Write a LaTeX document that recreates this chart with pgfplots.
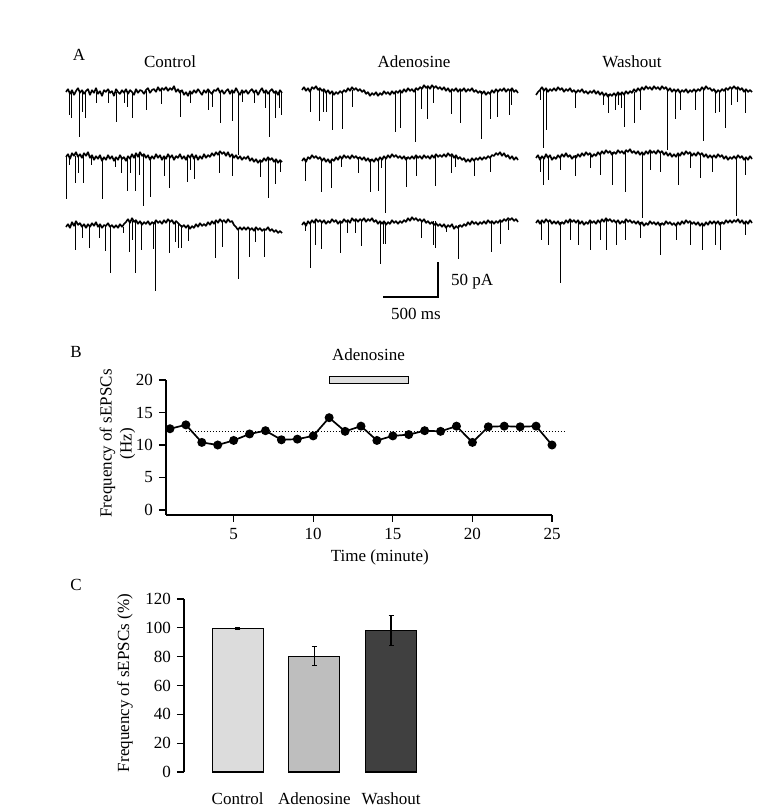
\documentclass[border=0pt]{standalone}
\usepackage{fontspec}
\setmainfont{Liberation Serif}
\usepackage{pgfplots}
\pgfplotsset{compat=1.18}
\definecolor{ctrlfill}{HTML}{DCDCDC}
\definecolor{adefill}{HTML}{BEBEBE}
\definecolor{washfill}{HTML}{404040}
\definecolor{barfill}{HTML}{DEDEDE}
\pgfplotsset{/pgf/number format/assume math mode=true}
\pgfplotsset{
  trace/.style={black, line width=0.8pt, mark=none, forget plot, line join=bevel},
  spikes/.style={draw=none, mark=none, forget plot,
    error bars/.cd, y dir=plus, y explicit, error mark=none,
    error bar style={draw=black, line width=0.45pt}},
}
\begin{document}
\fontsize{8.5}{10}\selectfont
\begin{tikzpicture}[font=\fontsize{8.5}{10}\selectfont]
\path[use as bounding box] (0,0) rectangle (390.5pt,405pt);
% ---------------- Panel A (canvas axis in image pixels) ----------------
\begin{axis}[at={(0pt,0pt)}, anchor=south west, scale only axis,
  width=390.5pt, height=405pt, xmin=0, xmax=781, ymin=0, ymax=810,
  y dir=reverse, hide axis, clip=false]
% Control row 1
\addplot[trace] table[header=false, row sep=\\, x expr=66+2*\coordindex, y index=0] {
92\\89\\94\\90\\95\\91\\88\\93\\90\\94\\
91\\89\\95\\90\\93\\88\\94\\91\\96\\90\\
92\\89\\93\\91\\96\\89\\92\\94\\90\\93\\
89\\94\\90\\92\\95\\89\\93\\90\\91\\94\\
90\\88\\93\\90\\89\\92\\87\\91\\88\\90\\
87\\91\\88\\90\\86\\92\\89\\93\\90\\95\\
92\\96\\91\\94\\90\\93\\89\\92\\95\\90\\
93\\89\\92\\94\\90\\91\\88\\93\\90\\94\\
91\\89\\94\\90\\93\\88\\92\\95\\90\\93\\
90\\94\\91\\89\\93\\90\\95\\91\\88\\93\\
90\\94\\91\\89\\93\\91\\95\\90\\93\\
};
\addplot[spikes] coordinates {(69,92)+-(0,23) (71,92)+-(0,26) (79,92)+-(0,45) (82,92)+-(0,20) (85,92)+-(0,26) (96,92)+-(0,11) (108,92)+-(0,11) (116,92)+-(0,30) (124,92)+-(0,11) (127,92)+-(0,15) (132,92)+-(0,26) (146,91)+-(0,19) (161,89)+-(0,15) (180,90)+-(0,27) (190,92)+-(0,11) (208,91)+-(0,19) (212,91)+-(0,16) (220,91)+-(0,32) (232,91)+-(0,30) (238,92)+-(0,63) (242,92)+-(0,10) (254,92)+-(0,11) (265,92)+-(0,16) (269,92)+-(0,45) (275,92)+-(0,26) (279,92)+-(0,16) (281,92)+-(0,23)};
% Control row 2
\addplot[trace] table[header=false, row sep=\\, x expr=66+2*\coordindex, y index=0] {
157\\154\\159\\153\\156\\152\\157\\154\\158\\153\\
156\\152\\158\\155\\160\\156\\159\\155\\161\\157\\
160\\155\\159\\156\\161\\157\\160\\155\\159\\157\\
161\\156\\159\\154\\158\\153\\157\\152\\156\\154\\
158\\155\\160\\156\\159\\154\\158\\155\\160\\156\\
159\\154\\158\\155\\160\\156\\158\\154\\159\\156\\
160\\155\\158\\154\\159\\155\\160\\156\\159\\154\\
158\\155\\157\\153\\156\\152\\155\\151\\154\\152\\
156\\152\\157\\154\\158\\155\\159\\156\\160\\157\\
159\\156\\161\\158\\162\\159\\163\\160\\162\\158\\
161\\157\\160\\158\\162\\159\\163\\160\\162\\
};
\addplot[spikes] coordinates {(66,157)+-(0,42) (69,156)+-(0,9) (75,156)+-(0,27) (78,155)+-(0,18) (83,155)+-(0,28) (91,155)+-(0,10) (102,158)+-(0,41) (115,158)+-(0,9) (121,158)+-(0,15) (127,157)+-(0,34) (130,157)+-(0,16) (135,156)+-(0,35) (139,155)+-(0,20) (143,155)+-(0,51) (150,157)+-(0,40) (164,157)+-(0,19) (169,157)+-(0,31) (187,157)+-(0,25) (190,157)+-(0,13) (194,157)+-(0,22) (219,154)+-(0,19) (232,156)+-(0,20) (260,161)+-(0,16) (268,159)+-(0,39) (275,160)+-(0,24) (280,160)+-(0,12)};
% Control row 3
\addplot[trace] table[header=false, row sep=\\, x expr=66+2*\coordindex, y index=0] {
227\\224\\228\\222\\226\\221\\225\\223\\227\\224\\
228\\224\\227\\223\\226\\222\\227\\224\\228\\225\\
226\\223\\227\\225\\228\\225\\228\\224\\227\\224\\
222\\219\\223\\218\\222\\220\\224\\221\\225\\222\\
224\\221\\225\\222\\224\\220\\223\\221\\224\\220\\
223\\219\\222\\220\\224\\221\\223\\225\\227\\225\\
228\\225\\229\\226\\228\\224\\227\\223\\226\\224\\
226\\222\\225\\221\\224\\220\\223\\219\\222\\220\\
223\\219\\222\\221\\225\\227\\230\\227\\230\\227\\
230\\227\\230\\228\\231\\227\\230\\228\\231\\229\\
230\\227\\231\\229\\232\\230\\233\\231\\233\\
};
\addplot[spikes] coordinates {(75,224)+-(0,26) (82,225)+-(0,13) (89,225)+-(0,23) (99,225)+-(0,13) (105,226)+-(0,25) (110,227)+-(0,46) (123,227)+-(0,6) (129,221)+-(0,31) (132,221)+-(0,19) (135,221)+-(0,52) (141,222)+-(0,28) (153,222)+-(0,27) (155,222)+-(0,69) (169,221)+-(0,32) (175,222)+-(0,20) (178,224)+-(0,24) (181,225)+-(0,23) (188,227)+-(0,14) (215,222)+-(0,36) (222,221)+-(0,26) (238,228)+-(0,51) (249,229)+-(0,28) (255,229)+-(0,13) (264,230)+-(0,27)};
% Adenosine row 1
\addplot[trace] table[header=false, row sep=\\, x expr=302+2*\coordindex, y index=0] {
90\\87\\91\\88\\92\\87\\89\\86\\90\\88\\
91\\89\\93\\90\\94\\91\\95\\92\\94\\91\\
93\\90\\92\\88\\91\\87\\90\\88\\91\\89\\
92\\90\\94\\92\\96\\93\\95\\92\\96\\93\\
95\\91\\94\\92\\95\\91\\94\\91\\93\\90\\
93\\89\\92\\88\\91\\89\\92\\88\\90\\87\\
89\\85\\88\\86\\89\\85\\88\\86\\89\\87\\
90\\87\\91\\88\\92\\89\\91\\88\\92\\89\\
91\\88\\92\\89\\91\\88\\92\\90\\93\\91\\
94\\91\\95\\92\\94\\90\\93\\89\\92\\89\\
91\\88\\92\\89\\91\\88\\92\\90\\93\\
};
\addplot[spikes] coordinates {(310,89)+-(0,23) (319,89)+-(0,32) (323,90)+-(0,22) (326,91)+-(0,21) (332,92)+-(0,38) (342,92)+-(0,37) (352,90)+-(0,17) (395,93)+-(0,39) (400,92)+-(0,36) (415,90)+-(0,52) (421,88)+-(0,21) (427,87)+-(0,32) (433,87)+-(0,16) (451,90)+-(0,24) (460,90)+-(0,33) (481,91)+-(0,48) (490,92)+-(0,27) (497,91)+-(0,26) (509,90)+-(0,25) (511,90)+-(0,15)};
% Adenosine row 2
\addplot[trace] table[header=false, row sep=\\, x expr=302+2*\coordindex, y index=0] {
161\\158\\162\\157\\159\\155\\158\\156\\159\\157\\
161\\158\\162\\159\\163\\159\\161\\157\\160\\156\\
159\\155\\158\\156\\159\\155\\158\\156\\159\\157\\
160\\157\\161\\158\\162\\159\\162\\158\\161\\157\\
160\\156\\159\\155\\158\\154\\157\\155\\158\\156\\
159\\156\\160\\157\\159\\156\\159\\155\\158\\156\\
159\\155\\158\\156\\159\\155\\158\\154\\157\\155\\
157\\154\\157\\153\\156\\154\\158\\155\\159\\157\\
160\\158\\162\\159\\162\\158\\161\\158\\160\\157\\
160\\157\\159\\156\\158\\155\\156\\153\\155\\152\\
156\\153\\157\\155\\159\\156\\160\\157\\160\\
};
\addplot[spikes] coordinates {(305,159)+-(0,22) (321,159)+-(0,33) (331,159)+-(0,29) (341,157)+-(0,10) (358,157)+-(0,16) (370,159)+-(0,33) (378,159)+-(0,32) (381,158)+-(0,10) (385,157)+-(0,56) (406,157)+-(0,30) (416,157)+-(0,19) (435,156)+-(0,30) (451,156)+-(0,17) (455,156)+-(0,11) (474,159)+-(0,17) (490,156)+-(0,16)};
% Adenosine row 3
\addplot[trace] table[header=false, row sep=\\, x expr=302+2*\coordindex, y index=0] {
225\\222\\226\\221\\224\\220\\223\\219\\222\\220\\
223\\220\\224\\221\\223\\219\\222\\220\\224\\221\\
223\\219\\222\\220\\223\\218\\221\\219\\222\\219\\
221\\218\\222\\219\\221\\218\\222\\220\\224\\221\\
224\\221\\225\\222\\224\\220\\223\\221\\224\\221\\
223\\220\\222\\218\\221\\217\\220\\218\\221\\219\\
222\\219\\223\\221\\224\\222\\225\\223\\226\\224\\
227\\224\\228\\225\\227\\224\\229\\226\\228\\225\\
227\\224\\226\\222\\225\\221\\224\\222\\225\\222\\
224\\221\\224\\220\\223\\221\\224\\221\\223\\220\\
222\\219\\221\\218\\220\\218\\221\\219\\222\\
};
\addplot[spikes] coordinates {(305,223)+-(0,8) (310,222)+-(0,46) (315,221)+-(0,24) (321,221)+-(0,28) (340,221)+-(0,32) (347,220)+-(0,13) (355,220)+-(0,13) (361,220)+-(0,26) (380,221)+-(0,43) (383,222)+-(0,22) (385,222)+-(0,22) (421,220)+-(0,18) (433,221)+-(0,24) (435,221)+-(0,27) (446,226)+-(0,6) (458,225)+-(0,34) (491,222)+-(0,30) (500,221)+-(0,23) (508,220)+-(0,10)};
% Washout row 1
\addplot[trace] table[header=false, row sep=\\, x expr=536+2*\coordindex, y index=0] {
95\\92\\90\\87\\91\\88\\92\\89\\91\\88\\
91\\87\\90\\88\\92\\89\\91\\88\\92\\90\\
93\\90\\92\\89\\93\\91\\94\\91\\93\\90\\
94\\91\\95\\92\\96\\93\\97\\94\\96\\93\\
96\\92\\95\\92\\95\\91\\94\\91\\93\\89\\
92\\88\\91\\87\\90\\86\\89\\87\\90\\86\\
89\\87\\90\\86\\89\\87\\91\\88\\92\\89\\
92\\89\\93\\90\\92\\89\\93\\90\\92\\89\\
92\\89\\91\\87\\90\\86\\89\\88\\91\\89\\
93\\90\\92\\89\\91\\88\\90\\87\\89\\86\\
89\\87\\90\\88\\92\\89\\92\\90\\92\\
};
\addplot[spikes] coordinates {(540,90)+-(0,10) (543,90)+-(0,58) (546,90)+-(0,40) (575,91)+-(0,17) (603,94)+-(0,11) (608,94)+-(0,19) (615,94)+-(0,16) (618,93)+-(0,12) (621,93)+-(0,15) (624,93)+-(0,34) (634,92)+-(0,31) (640,89)+-(0,21) (667,89)+-(0,61) (675,90)+-(0,29) (680,91)+-(0,19) (695,90)+-(0,20) (703,89)+-(0,52) (715,90)+-(0,23) (719,91)+-(0,21) (725,90)+-(0,38) (731,88)+-(0,17) (737,88)+-(0,14) (745,89)+-(0,24)};
% Washout row 2
\addplot[trace] table[header=false, row sep=\\, x expr=536+2*\coordindex, y index=0] {
158\\155\\160\\156\\159\\154\\158\\155\\160\\157\\
159\\155\\158\\154\\157\\153\\157\\155\\159\\156\\
158\\154\\157\\153\\156\\152\\155\\153\\157\\154\\
156\\152\\155\\151\\154\\150\\153\\151\\155\\152\\
154\\150\\153\\151\\154\\150\\152\\149\\153\\151\\
154\\151\\155\\152\\155\\151\\154\\150\\153\\151\\
154\\150\\153\\151\\155\\152\\156\\153\\157\\154\\
157\\153\\156\\152\\155\\151\\154\\152\\156\\153\\
156\\152\\155\\153\\157\\154\\158\\155\\158\\155\\
158\\154\\157\\155\\159\\156\\160\\157\\159\\156\\
159\\155\\158\\156\\160\\157\\160\\156\\159\\
};
\addplot[spikes] coordinates {(540,157)+-(0,15) (543,157)+-(0,28) (548,157)+-(0,23) (560,156)+-(0,14) (575,155)+-(0,21) (590,154)+-(0,14) (600,153)+-(0,22) (612,152)+-(0,33) (625,151)+-(0,41) (642,152)+-(0,66) (650,152)+-(0,18) (660,152)+-(0,20) (678,154)+-(0,31) (690,154)+-(0,14) (700,154)+-(0,24) (712,156)+-(0,16) (736,157)+-(0,59) (745,157)+-(0,18)};
% Washout row 3
\addplot[trace] table[header=false, row sep=\\, x expr=536+2*\coordindex, y index=0] {
223\\220\\224\\220\\223\\219\\222\\220\\224\\221\\
224\\221\\225\\222\\224\\220\\223\\219\\222\\220\\
223\\220\\224\\221\\225\\222\\224\\220\\223\\221\\
224\\220\\223\\219\\222\\218\\221\\219\\222\\220\\
223\\220\\224\\221\\223\\219\\222\\220\\223\\221\\
224\\221\\225\\222\\226\\223\\225\\221\\224\\222\\
225\\222\\226\\223\\225\\221\\224\\222\\225\\223\\
226\\222\\225\\221\\224\\220\\223\\221\\224\\222\\
225\\222\\226\\223\\226\\222\\225\\221\\224\\221\\
224\\221\\225\\222\\224\\220\\223\\220\\223\\220\\
222\\219\\223\\220\\224\\221\\224\\220\\223\\
};
\addplot[spikes] coordinates {(541,221)+-(0,19) (548,221)+-(0,24) (560,222)+-(0,61) (570,221)+-(0,19) (578,221)+-(0,24) (590,222)+-(0,28) (600,221)+-(0,19) (606,220)+-(0,30) (616,221)+-(0,24) (625,221)+-(0,19) (640,222)+-(0,16) (660,223)+-(0,32) (676,223)+-(0,17) (690,222)+-(0,23) (702,223)+-(0,27) (715,222)+-(0,23) (720,222)+-(0,28) (745,221)+-(0,14)};
% scale bar
\addplot[black, line width=0.7pt, mark=none, forget plot] coordinates {(383,297) (438,297) (438,262)};
\node[anchor=west] at (axis cs:445,282) {50 pA};
\node at (axis cs:416,314) {500 ms};
% titles and panel letters
\node at (axis cs:79,55) {A};
\node at (axis cs:170,62) {Control};
\node at (axis cs:414,62) {Adenosine};
\node at (axis cs:632,62) {Washout};
\node at (axis cs:76,352) {B};
\node at (axis cs:76,585) {C};
\end{axis}
% ---------------- Panel B ----------------
\begin{axis}[at={(83pt,147.5pt)}, anchor=south west, scale only axis,
  width=193pt, height=67.5pt,
  xmin=0.75, xmax=25, ymin=-0.77, ymax=20,
  axis x line*=bottom, axis y line*=left,
  axis line style={line width=0.6pt, -},
  xtick={5,10,15,20,25}, ytick={0,5,10,15,20},
  tick align=outside, major tick length=3.5pt,
  tick style={line width=0.6pt, black},
  xlabel={Time (minute)}, ylabel={Frequency of sEPSCs\\(Hz)},
  ylabel style={align=center, at={(axis description cs:-0.126,0.53)}, anchor=center},
  xlabel style={at={(axis description cs:0.554,-0.311)}, anchor=center},
  clip=false]
\addplot[black, densely dotted, line width=0.5pt, mark=none, forget plot] coordinates {(2,12) (25.8,12)};
\addplot[black, line width=0.85pt, mark=*, mark size=1.8pt, mark options={solid, fill=black}] coordinates {
(1,12.5) (2,13.1) (3,10.4) (4,10.0) (5,10.7) (6,11.7) (7,12.2) (8,10.8) (9,10.9) (10,11.4)
(11,14.2) (12,12.1) (13,12.9) (14,10.7) (15,11.4) (16,11.6) (17,12.2) (18,12.1) (19,12.9) (20,10.4)
(21,12.8) (22,12.9) (23,12.8) (24,12.9) (25,10.0)};
\addplot[fill=barfill, draw=black, line width=0.5pt, mark=none] coordinates {(11,19.5) (16,19.5) (16,20.6) (11,20.6)} -- cycle;
\node at (axis cs:13.47,23.85) {Adenosine};
\end{axis}
% ---------------- Panel C ----------------
\begin{axis}[at={(92pt,19pt)}, anchor=south west, scale only axis,
  width=130.4pt, height=86.5pt,
  xmin=-0.7, xmax=2.7, ymin=0, ymax=120,
  axis y line*=left, axis x line*=bottom,
  x axis line style={draw=none}, y axis line style={line width=0.6pt, -},
  ytick={0,20,40,60,80,100,120}, xtick={0,1,2},
  xticklabels={Control,Adenosine,Washout},
  tick align=outside, major tick length=3.5pt,
  ytick style={line width=0.6pt, black}, xtick style={draw=none},
  xticklabel style={yshift=-4pt},
  ylabel={Frequency of sEPSCs (\%)},
  ylabel style={at={(axis description cs:-0.226,0.514)}, anchor=center},
  ybar, bar width=0.665, clip=false]
\addplot[bar shift=0pt, fill=ctrlfill, draw=black, line width=0.6pt,
  error bars/.cd, y dir=both, y explicit,
  error bar style={line width=0.6pt, black},
  error mark options={rotate=90, mark size=1.3pt, line width=0.6pt, black}]
  coordinates {(0,99.5) +- (0,0.4)};
\addplot[bar shift=0pt, fill=adefill, draw=black, line width=0.6pt,
  error bars/.cd, y dir=both, y explicit,
  error bar style={line width=0.6pt, black},
  error mark options={rotate=90, mark size=1.3pt, line width=0.6pt, black}]
  coordinates {(1,80.3) +- (0,6.6)};
\addplot[bar shift=0pt, fill=washfill, draw=black, line width=0.6pt,
  error bars/.cd, y dir=both, y explicit,
  error bar style={line width=0.6pt, black},
  error mark options={rotate=90, mark size=1.3pt, line width=0.6pt, black}]
  coordinates {(2,98.1) +- (0,10.4)};
\end{axis}
\end{tikzpicture}
\end{document}
